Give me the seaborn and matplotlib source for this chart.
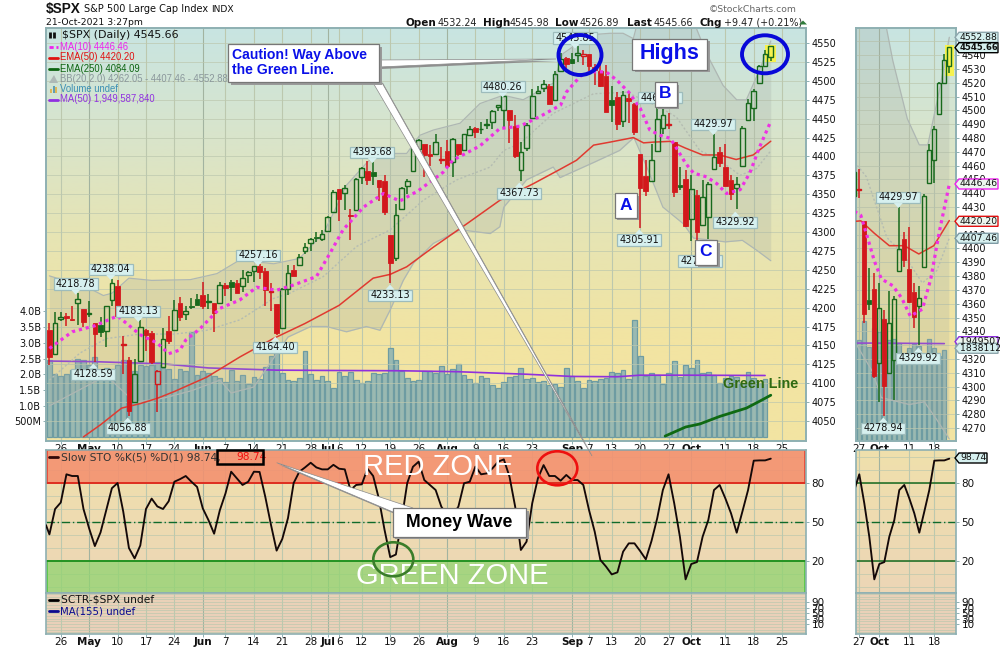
import numpy as np
import pandas as pd
import matplotlib
matplotlib.use("Agg")
import matplotlib.pyplot as plt
from matplotlib.colors import LinearSegmentedColormap
from matplotlib.patches import Rectangle, Polygon, Ellipse
import seaborn as sns

# daily candles, 22 Apr 2021 to 21 Oct 2021
opens = [4170.46,4138.78,4185.03,4188.25,4185.14,4206.14,4198.10,4191.98,4179.80,4177.06,4169.14,4210.34,4228.29,4150.34,4130.55,4074.99,4129.58,4169.92,4165.94,4098.45,4121.97,4168.61,4170.16,4205.94,4191.59,4201.94,4210.77,
         4216.52,4206.82,4206.05,4206.05,4229.34,4233.81,4232.99,4228.56,4242.90,4248.31,4255.28,4248.87,4220.37,4204.78,4173.40,4224.61,4249.27,4256.97,4274.45,4284.90,4293.21,4290.65,
         4300.73,4326.60,4356.46,4351.01,4321.07,4329.38,4372.41,4381.07,4380.11,4369.02,4367.43,4296.40,4265.11,4331.13,4361.27,4381.20,4409.58,4416.38,4402.95,4403.59,4395.12,
         4406.86,4392.74,4415.95,4408.86,4429.07,4437.77,4435.79,4442.18,4446.08,4464.84,4461.65,4462.12,4440.94,4382.44,4410.56,4450.29,4484.40,4490.45,4493.75,4474.10,4513.76,4529.75,
         4528.80,4534.48,4532.42,4535.38,4518.09,4513.02,4506.92,4474.81,4479.33,4447.49,4477.09,4469.74,4402.95,4374.45,4367.43,4406.75,4438.04,4442.12,4419.54,4362.41,4370.67,
         4317.16,4348.84,4309.87,4319.57,4383.73,4406.51,4385.44,4368.31,4358.01,4386.75,4447.69,4463.72,4497.34,4519.90,4532.24]
highs = [4179.57,4194.17,4194.19,4193.35,4201.53,4218.78,4198.10,4209.39,4179.80,4187.72,4202.70,4238.04,4236.39,4162.04,4134.73,4131.58,4183.13,4171.92,4169.15,4116.93,4172.80,4188.72,4209.52,4213.42,4202.61,4213.38,4218.36,
         4234.12,4217.37,4206.05,4233.45,4232.34,4236.74,4237.09,4249.74,4248.38,4255.59,4257.16,4251.89,4232.29,4204.78,4226.24,4255.84,4256.60,4271.28,4286.12,4292.14,4300.52,4302.43,
         4320.66,4355.43,4356.46,4361.88,4330.88,4371.60,4386.68,4393.68,4393.18,4369.02,4375.09,4296.40,4336.84,4359.70,4369.87,4415.18,4422.73,4416.38,4415.47,4429.97,4412.25,
         4422.18,4423.79,4416.17,4429.76,4440.82,4439.39,4445.21,4449.44,4461.77,4468.37,4480.26,4462.12,4454.32,4418.61,4444.35,4489.88,4492.81,4501.71,4495.90,4513.33,4537.36,4531.39,
         4537.11,4545.85,4541.45,4535.38,4521.79,4529.90,4520.47,4492.99,4485.68,4486.87,4485.87,4471.41,4402.95,4394.87,4416.75,4465.40,4463.12,4457.30,4419.54,4385.57,4382.55,
         4375.19,4355.51,4369.23,4365.57,4429.97,4412.02,4415.88,4374.89,4372.87,4439.73,4475.82,4488.75,4520.40,4540.87,4545.98]
lows = [4123.69,4138.78,4182.36,4176.22,4181.78,4176.81,4174.85,4188.03,4128.59,4160.94,4147.33,4201.64,4188.13,4111.53,4056.88,4074.99,4129.58,4142.69,4125.99,4061.41,4121.97,4151.72,4170.16,4182.52,4184.11,4197.78,4203.57,
        4197.59,4198.27,4167.34,4206.05,4215.66,4208.41,4218.74,4220.34,4232.25,4234.07,4238.35,4202.45,4196.05,4164.40,4173.40,4217.27,4241.43,4256.97,4271.16,4274.67,4287.04,4287.96,
        4300.73,4326.60,4314.37,4329.79,4289.37,4329.38,4364.03,4362.36,4362.36,4340.70,4322.53,4233.13,4262.05,4331.13,4350.06,4381.20,4405.45,4372.51,4387.01,4403.59,4389.65,
        4384.81,4373.00,4400.23,4408.86,4429.07,4424.74,4430.03,4436.42,4435.96,4460.82,4437.66,4417.83,4397.59,4367.73,4406.80,4450.29,4482.28,4485.66,4468.99,4474.10,4513.76,4515.80,
        4522.02,4524.66,4521.30,4513.00,4493.95,4492.07,4458.58,4445.70,4435.46,4438.37,4443.80,4427.76,4305.91,4347.96,4367.43,4406.75,4430.03,4436.19,4346.33,4355.08,4306.24,
        4288.52,4278.94,4309.87,4290.49,4383.73,4386.22,4360.59,4342.09,4329.92,4386.75,4447.69,4447.47,4496.41,4519.55,4526.89]
closes = [4134.98,4180.17,4187.62,4186.72,4183.18,4211.47,4181.17,4192.66,4164.66,4167.59,4201.62,4232.60,4188.43,4152.10,4063.04,4112.50,4173.85,4163.29,4127.83,4115.68,4159.12,4155.86,4197.05,4188.13,4195.99,4200.88,4204.11,
          4202.04,4208.12,4192.85,4229.89,4226.52,4227.26,4219.55,4239.18,4247.44,4255.15,4246.59,4223.70,4221.86,4166.45,4224.79,4246.44,4241.84,4266.49,4280.70,4290.61,4291.80,4297.50,
          4319.94,4352.34,4343.54,4358.13,4320.82,4369.55,4384.63,4369.21,4374.30,4360.03,4327.16,4258.49,4323.06,4358.69,4367.48,4411.79,4422.30,4401.46,4400.64,4419.15,4395.26,
          4387.16,4423.15,4402.66,4429.10,4436.52,4432.35,4436.75,4442.41,4460.83,4468.00,4479.71,4448.08,4400.27,4405.80,4441.67,4479.53,4486.23,4496.19,4470.00,4509.37,4528.79,4522.68,
          4524.09,4536.95,4535.43,4520.03,4514.07,4493.28,4458.58,4468.73,4443.05,4480.70,4473.75,4432.99,4357.73,4354.19,4395.64,4448.98,4455.48,4443.11,4352.63,4359.46,4307.54,
          4357.04,4300.46,4345.72,4363.55,4399.76,4391.34,4361.19,4350.65,4363.80,4438.26,4471.37,4486.46,4519.63,4536.19,4545.66]

# volume in billions, last day has none
volumes = [2.45,2.0,1.95,2.0,2.13,2.5,2.45,2.3,2.55,2.07,2.2,2.17,2.3,2.45,2.45,2.1,2.3,2.25,2.28,2.4,2.2,2.17,1.85,2.17,2.1,3.35,1.97,2.1,2.05,1.95,
           1.88,1.75,2.13,1.8,1.97,1.69,1.92,1.85,2.23,2.58,3.0,2.03,1.82,1.78,1.88,2.74,2.0,1.83,1.95,1.78,1.56,
           2.06,1.94,2.06,1.82,1.71,1.78,2.03,2.0,2.03,2.82,2.45,2.11,1.87,1.78,1.82,2.09,2.09,2.03,2.25,2.0,2.16,2.32,1.96,1.84,1.71,1.94,1.87,1.65,1.55,1.74,1.9,1.94,2.19,1.84,1.87,1.74,1.78,1.65,1.68,1.58,2.19,
           1.95,1.78,1.55,1.82,1.78,1.85,1.89,2.06,2.03,2.12,1.85,3.73,2.57,1.95,2.03,1.97,1.68,2.03,2.41,1.9,2.28,2.19,2.44,2.03,2.06,1.97,1.71,1.87,1.95,1.92,1.71,2.06,1.87,1.71,1.84]
vol_ma_x = [0,8,20,28,40,50,62,72,84,92,100,104,112,126]
vol_ma = [2.42,2.40,2.33,2.20,2.13,2.12,2.11,2.08,2.0,1.93,1.92,1.97,1.97,1.96]

ma10_x = [0,4,8,12,16,19,21,23,24,26.5,30,33.5,36.5,40,43,47,49.4,51.7,55.3,58.8,61.7,65,69.3,71,75.8,79.3,82.8,86.4,90,91,92.5,93.7,95.8,98,99.9,102,104,105.7,107.5,109.3,110.4,112,113.4,115.7,117.5,119.2,121.6,123.3,125,127]
ma10 = [4146,4168,4176,4189,4164,4153,4139,4144,4157,4172,4199,4210,4227,4223,4230,4241,4272,4303,4333,4351,4341,4355,4379,4395,4414,4437,4440,4453,4468,4485,4498,4508,4512,4512,4501,4485,4464,4435,4428,4424,4411,4391,4378,4373,4364,4351,4356,4378,4412,4446.46]
ema50_x = [6,9,12.7,16,19,22,27.7,33.6,39.4,45,51,57,60,62.9,67.6,73.5,79.3,85.2,89.9,92.8,95.8,98.7,102.8,104.6,106.3,109.3,112,115,118,120.9,123.9,127]
ema50 = [4029,4045,4067,4073,4080,4089,4108,4135,4159,4179,4203,4239,4244,4254,4280,4311,4342,4364,4383,4395,4415,4419,4425,4418,4419,4420,4411,4402,4402,4396,4402,4420.20]
ema250_x = [108.4,112,114.5,118,122.7,125,127]
ema250 = [4030,4042,4046,4056,4067,4076,4084.09]

bb_upper_x = [0,1.3,4.3,9.5,11,14,18,24.8,29.5,33.5,39.5,44,48.2,50,52.3,55.8,58.2,60.5,62.9,65.2,67.6,72.3,75.8,79.9,83.4,88.7,90.4,95.2,98.7,101,102.8,104,112.8,115.7,118.6,121,122.7,125,127]
bb_upper = [4242,4239,4236,4216,4219,4239,4236,4237,4245,4263,4258,4265,4298,4325,4362,4391,4408,4404,4404,4428,4435,4444,4470,4481,4475,4497,4536,4561,4563,4563,4556,4590,4590,4536,4494,4475,4475,4514,4552.88]
bb_lower_x = [0,5,10,15,20,25,30,32,36,38,42,46,48.8,52.3,55.8,58.2,60,62.3,64.1,67.6,72.3,77.6,79.3,80,84,88.7,89.9,95.8,100.4,102.9,105.4,108,111.6,113.4,119,122,124.5,127]
bb_lower = [4070,4090,4110,4075,4080,4090,4104,4087,4095,4117,4161,4175,4175,4168,4175,4170,4197,4236,4259,4285,4303,4298,4307,4333,4369,4386,4372,4392,4408,4425,4382,4333,4311,4292,4287,4289,4276,4262.05]
bb_mid_x = [0,5.4,10,16,22,27.7,33.6,39.4,42.3,48.2,54.1,60,65.8,71.7,77.6,80,82.8,88.7,92.8,95.8,101.6,107.5,110.4,114.5,118,121.6,124.5,127]
bb_mid = [4104,4140,4159,4165,4165,4170,4184,4212,4219,4241,4281,4303,4342,4369,4386,4408,4417,4457,4472,4483,4485,4465,4452,4408,4395,4375,4384,4407.46]

sto_start = 47.6
slow_sto = [40.5,60,65,86.7,85.4,85.4,60,45,31.5,42,59,76,80,58,30,22,32,60,68,62,60,66,81,83,85.4,81,77,60.5,51.5,41,59,72,88.7,83.6,78.5,81,88.7,88.5,69.5,48,28,37,53,80,88.7,92,95.6,92,90.5,90.5,94,91,90.5,74.6,78.5,79,91,85.4,68,44,23,25,51.5,80,92.5,96.4,
            82.3,78.5,74.6,61.8,55.4,55.4,61.8,79.8,81,92.6,86.7,87.4,91.3,96.4,98.2,84.9,61.8,28.5,34.9,64.4,83.6,93.8,85.4,85.4,81.8,86.2,82.3,82.3,78.5,59.2,42.6,20.8,15.7,9.7,11.3,27.2,33.6,33.6,27.7,21.3,35.4,52.8,74.6,86.7,64.4,38.7,5.9,17.7,19.2,38.7,51.5,74.6,78.5,68.2,56.7,41.8,58,74.6,97.2,97.4,97.4,98.74]

tick_dates = ["2021-04-26","2021-05-03","2021-05-10","2021-05-17","2021-05-24","2021-06-01","2021-06-07","2021-06-14","2021-06-21","2021-06-28","2021-07-01","2021-07-06","2021-07-12","2021-07-19","2021-07-26","2021-08-02","2021-08-09","2021-08-16","2021-08-23","2021-09-01","2021-09-07","2021-09-13","2021-09-20","2021-09-27","2021-10-01","2021-10-11","2021-10-18","2021-10-25"]
tick_labels = ["26","May","10","17","24","Jun","7","14","21","28","Jul","6","12","19","26","Aug","9","16","23","Sep","7","13","20","27","Oct","11","18","25"]
right_tick_dates = ["2021-09-27","2021-10-01","2021-10-11","2021-10-18"]
right_tick_labels = ["27","Oct","11","18"]
month_labels = ["May","Jun","Jul","Aug","Sep","Oct"]
vol_ticks = [0.5,1,1.5,2,2.5,3,3.5,4]
vol_labels = ["500M","1.0B","1.5B","2.0B","2.5B","3.0B","3.5B","4.0B"]

sns.set_style("white")
plt.rcParams["font.family"] = ["DejaVu Sans"]

GREEN = "#17691c"
RED = "#d2181c"
GRID = "#bcc8ae"
MONTH_GRID = "#a2b3a0"
SPINE = "#8eb0b2"
TEXT = "#111111"

top_cmap = LinearSegmentedColormap.from_list("top", ["#c8e5e2", "#d8e4cc", "#e6e4b4", "#f2e4a2", "#f2e4a2"])
low_cmap = LinearSegmentedColormap.from_list("low", ["#f0e0ac", "#ecd6b6"])
sub_cmap = LinearSegmentedColormap.from_list("sub", ["#ead2b8", "#ead0ba"])

days = pd.bdate_range("2021-04-22", "2021-10-29")
days = days.drop(pd.to_datetime(["2021-05-31", "2021-07-05", "2021-09-06"]))
opens, highs, lows, closes = map(np.array, (opens, highs, lows, closes))
bars = np.arange(len(closes))
prev = np.r_[closes[0] + 1, closes[:-1]]


def tick_pos(dates):
    return days.get_indexer(pd.to_datetime(dates))


def px_axes(fig, left, top, right, bottom):
    return fig.add_axes([left / 1000, 1 - bottom / 650, (right - left) / 1000, (bottom - top) / 650])


def paint(ax, cmap, xlim, ylim):
    ax.imshow(np.linspace(0, 1, 256).reshape(-1, 1), aspect="auto", cmap=cmap,
              extent=[xlim[0], xlim[1], ylim[0], ylim[1]], origin="upper", zorder=0)
    ax.set_xlim(xlim)
    ax.set_ylim(ylim)


def frame(ax):
    for side in ax.spines.values():
        side.set_color(SPINE)
        side.set_linewidth(1.2)


def x_grid(ax, pos, labels):
    for p, lab in zip(pos, labels):
        ax.axvline(p, color=MONTH_GRID if lab in month_labels else GRID, lw=0.8, zorder=0.5)


def x_labels(ax, pos, labels, show=True):
    ax.set_xticks(pos)
    if show:
        ax.set_xticklabels(labels)
        for t in ax.get_xticklabels():
            t.set_fontweight("bold" if t.get_text() in month_labels else "normal")
    else:
        ax.set_xticklabels([])
    ax.tick_params(axis="x", bottom=True, length=2, width=0.7, color=SPINE, labelsize=7.5, pad=0.5, labelcolor=TEXT)
    ax.set_xlabel("")


def price_panel(fig, box, xlim, vol_lim, price_lim, yticks, candle_w, pos, labels, line_w, is_main):
    left, top, right, bottom = box
    ax_vol = px_axes(fig, left, top, right, bottom)
    paint(ax_vol, top_cmap, xlim, vol_lim)
    x_grid(ax_vol, pos, labels)
    sns.barplot(x=np.arange(len(volumes)), y=volumes, native_scale=True, ax=ax_vol, color="#9ab9b1",
                edgecolor="#6e9ca2", linewidth=0.9, width=0.84, saturation=1, zorder=2)
    sns.lineplot(x=vol_ma_x, y=vol_ma, ax=ax_vol, color="#9030dc", lw=1.2, zorder=3)
    ax_vol.set_xlim(xlim)
    ax_vol.set_ylim(vol_lim)
    ax_vol.set_ylabel("")
    x_labels(ax_vol, pos, labels)
    if is_main:
        ax_vol.set_yticks(vol_ticks)
        ax_vol.set_yticklabels(vol_labels)
        ax_vol.tick_params(axis="y", left=True, length=2, width=0.7, color=SPINE, labelsize=7, pad=1.5, labelcolor=TEXT)
    else:
        ax_vol.set_yticks([])
    frame(ax_vol)

    ax = ax_vol.twinx()
    ax.patch.set_visible(False)
    ax.set_ylim(price_lim)
    ax.set_yticks(yticks)
    ax.tick_params(axis="y", right=True, length=2, width=0.7, color=SPINE, labelsize=7, pad=2, labelcolor=TEXT)
    for v in (np.arange(4050, 4575, 25) if is_main else np.arange(4270, 4560, 10)):
        ax.axhline(v, color=GRID, lw=0.7, alpha=0.7, zorder=0.5)

    grid_x = sorted(set(bb_upper_x) | set(bb_lower_x))
    ax.fill_between(grid_x, np.interp(grid_x, bb_lower_x, bb_lower), np.interp(grid_x, bb_upper_x, bb_upper),
                    color="#9fa9a2", alpha=0.24, lw=0, zorder=1)
    sns.lineplot(x=bb_upper_x, y=bb_upper, ax=ax, color="#aeb7b3", lw=0.9, zorder=1.2)
    sns.lineplot(x=bb_lower_x, y=bb_lower, ax=ax, color="#aeb7b3", lw=0.9, zorder=1.2)
    sns.lineplot(x=bb_mid_x, y=bb_mid, ax=ax, color="#b4bcb2", lw=1.0, linestyle=(0, (1.5, 1.5)), zorder=1.3)
    sns.lineplot(x=ema250_x, y=ema250, ax=ax, color="#0f6a12", lw=2.0, zorder=3)
    sns.lineplot(x=ema50_x, y=ema50, ax=ax, color="#e03a30", lw=1.1, zorder=3)

    # today's candle sits on a yellow patch
    ax.add_patch(Rectangle((bars[-1] - 0.95, lows[-1] - 2), 1.9, highs[-1] - lows[-1] + 3,
                           color="#f6f24e", lw=0, zorder=2.5))
    colors = np.where(closes >= prev, GREEN, RED)
    ax.vlines(bars, np.maximum(opens, closes), highs, colors=colors, lw=1.1, zorder=4)
    ax.vlines(bars, lows, np.minimum(opens, closes), colors=colors, lw=1.1, zorder=4)
    heights = np.abs(closes - opens)
    heights = np.where(heights < 1.2, 1.2, heights)
    bottoms = np.minimum(opens, closes)
    hollow = closes > opens
    ax.bar(bars[hollow], heights[hollow], bottom=bottoms[hollow], width=candle_w, facecolor="none",
           edgecolor=colors[hollow], lw=1.0, zorder=5)
    ax.bar(bars[~hollow], heights[~hollow], bottom=bottoms[~hollow], width=candle_w, color=colors[~hollow],
           edgecolor=colors[~hollow], lw=0.6, zorder=5)
    sns.lineplot(x=ma10_x, y=ma10, ax=ax, color="#ee30e4", lw=line_w, linestyle=(0, (1, 1.2)), zorder=6)
    ax.set_xlim(xlim)
    ax.set_ylim(price_lim)
    ax.set_ylabel("")
    frame(ax)
    return ax


def sto_panel(fig, box, xlim, pos, labels, tick_side_main):
    left, top, right, bottom = box
    sub_top = 593
    ax = px_axes(fig, left, top, right, sub_top)
    ylim = (-4.6, 105.4)
    paint(ax, low_cmap, xlim, ylim)
    x_grid(ax, pos, labels)
    for v in range(0, 101, 10):
        ax.axhline(v, color=GRID, lw=0.7, alpha=0.7, zorder=0.5)
    if tick_side_main:
        ax.axhspan(80, 105.4, facecolor="#f4906f", edgecolor="none", alpha=0.88, zorder=1)
        ax.axhspan(-4.6, 20, facecolor="#90d470", edgecolor="none", alpha=0.75, zorder=1)
        ax.add_patch(Rectangle((xlim[0] + 0.1, 80), xlim[1] - xlim[0] - 0.2, 25.2, fill=False, edgecolor="#e84a3a", lw=1.3, zorder=1.1))
        ax.add_patch(Rectangle((xlim[0] + 0.1, -4.4), xlim[1] - xlim[0] - 0.2, 24.4, fill=False, edgecolor="#58c848", lw=1.3, zorder=1.1))
        ax.axhline(80, color="#dd2a1c", lw=1.2, zorder=1.2)
        ax.axhline(20, color="#1c8a1c", lw=1.2, zorder=1.2)
    else:
        ax.axhline(80, color=GREEN, lw=1.1, zorder=1.2)
        ax.axhline(20, color=GREEN, lw=1.1, zorder=1.2)
    ax.axhline(50, color="#0e6a2a", lw=1.0, linestyle=(0, (6, 2, 1, 2)), zorder=1.2)
    sns.lineplot(x=np.r_[xlim[0], bars] if tick_side_main else bars,
                 y=np.r_[sto_start, slow_sto] if tick_side_main else slow_sto,
                 ax=ax, color="#140808", lw=1.35, zorder=3)
    ax.set_xlim(xlim)
    ax.set_ylim(ylim)
    ax.set_ylabel("")
    ax.set_yticks([20, 50, 80])
    ax.yaxis.tick_right()
    ax.tick_params(axis="y", right=True, length=2, width=0.7, color=SPINE, labelsize=7.5, pad=2, labelcolor=TEXT)
    x_labels(ax, pos, labels, show=False)
    ax.tick_params(axis="x", bottom=False)
    frame(ax)

    sub = px_axes(fig, left, sub_top, right, bottom)
    paint(sub, sub_cmap, xlim, (-26, 122.7))
    x_grid(sub, pos, labels)
    for v in range(-20, 121, 10):
        sub.axhline(v, color=GRID, lw=0.7, alpha=0.7, zorder=0.5)
    sub.set_yticks([10, 30, 50, 70, 90])
    sub.yaxis.tick_right()
    sub.tick_params(axis="y", right=True, length=2, width=0.7, color=SPINE, labelsize=7.5, pad=2, labelcolor=TEXT)
    x_labels(sub, pos, labels)
    frame(sub)


fig = plt.figure(figsize=(10, 6.5), dpi=100, facecolor="white")

main_pos = tick_pos(tick_dates)
right_pos = tick_pos(right_tick_dates)
main_xlim = (-0.6, 133.2)
right_xlim = (108.34, 128.34)

price_panel(fig, (46, 28, 806, 441), main_xlim, (-0.127, 13.03), (4023.5, 4570), np.arange(4050, 4575, 25), 0.82,
            main_pos, tick_labels, 2.3, True)
price_panel(fig, (856, 28, 956, 441), right_xlim, (0, 8.31), (4260.6, 4559.6), np.arange(4270, 4550, 10), 0.8,
            right_pos, right_tick_labels, 2.3, False)
sto_panel(fig, (46, 450, 806, 634), main_xlim, main_pos, tick_labels, True)
sto_panel(fig, (856, 450, 956, 634), right_xlim, right_pos, right_tick_labels, False)

# everything pasted on the chart, placed in pixels
ov = fig.add_axes([0, 0, 1, 1], zorder=20)
ov.set_xlim(0, 1000)
ov.set_ylim(650, 0)
ov.axis("off")
ov.patch.set_visible(False)


def txt(x, y, s, size=7, color=TEXT, weight="normal", ha="left", family="DejaVu Sans", z=12):
    ov.text(x, y, s, fontsize=size, color=color, fontweight=weight, ha=ha, va="center", family=family, zorder=z)


def price_tag(cx, cy, s, up=False, z=8):
    w, h = 44, 11.5
    ov.add_patch(Rectangle((cx - w / 2, cy - h / 2), w, h, facecolor="#d6f0ef", edgecolor="#9dbcbc", lw=0.9, zorder=z))
    tip = cy - h / 2 - 5 if up else cy + h / 2 + 5
    base = cy - h / 2 if up else cy + h / 2
    ov.add_patch(Polygon([(cx - 4.5, base), (cx + 4.5, base), (cx, tip)], facecolor="#d6f0ef", edgecolor="none", zorder=z))
    txt(cx, cy, s, size=6.9, ha="center", z=z + 0.1)


def paste_box(left, top, right, bottom, z=10):
    ov.add_patch(Rectangle((left + 2.5, top + 2.5), right - left, bottom - top, facecolor="#9a9a9a", edgecolor="none", zorder=z))
    ov.add_patch(Rectangle((left, top), right - left, bottom - top, facecolor="white", edgecolor="#777777", lw=0.9, zorder=z + 0.1))


def wedge(points, z=9):
    shadow = [(x + 2, y + 2) for x, y in points]
    ov.add_patch(Polygon(shadow, facecolor="#8f8f8f", edgecolor="none", zorder=z))
    ov.add_patch(Polygon(points, facecolor="white", edgecolor="#8a8a8a", lw=0.5, zorder=z + 0.1))


# header
txt(46, 9, "$SPX", size=9.8, weight="bold", family="Liberation Sans")
txt(84, 9, "S&P 500 Large Cap Index", size=7)
txt(211, 9, "INDX", size=6.6)
txt(46, 22.5, "21-Oct-2021 3:27pm", size=6.7)
txt(797, 9, "©StockCharts.com", size=6.7, color="#666666", ha="right")
for x, s in [(406, "Open"), (483, "High"), (555, "Low"), (627, "Last"), (699, "Chg")]:
    txt(x, 22.5, s, size=7.5, weight="bold")
for x, s in [(438, "4532.24"), (510, "4545.98"), (580, "4526.89"), (654, "4545.66"), (724, "+9.47 (+0.21%)")]:
    txt(x, 22.5, s, size=6.9, color="#222222")
ov.add_patch(Polygon([(799, 24.5), (807, 24.5), (803, 20.5)], facecolor="#2f7a3a", edgecolor="none", zorder=12))

# legend of the price panel
txt(62, 35, "$SPX (Daily) 4545.66", size=7.9, z=7)
legend_rows = [(46.5, "MA(10) 4446.46", "#ee22ee"), (57.5, "EMA(50) 4420.20", "#e01010"),
               (68.5, "EMA(250) 4084.09", "#0c6410"), (79.5, "BB(20,2.0) 4262.05 - 4407.46 - 4552.88", "#8a979c"),
               (89.5, "Volume undef", "#3a8fb4"), (99.5, "MA(50) 1,949,587,840", "#9030e0")]
for y, s, c in legend_rows:
    txt(60, y, s, size=6.85, color=c, family="Liberation Sans", z=7)
ov.plot([49, 58], [46.5, 46.5], color="#ee22ee", lw=2, linestyle=(0, (1.5, 1)), zorder=7)
ov.plot([49, 58], [57.5, 57.5], color="#e01010", lw=2, zorder=7)
ov.plot([49, 58], [68.5, 68.5], color="#0c6410", lw=2, zorder=7)
ov.plot([49, 58], [99.5, 99.5], color="#9030e0", lw=2, zorder=7)
ov.add_patch(Polygon([(49, 83), (54, 75), (58, 83)], facecolor="#aeb9b6", edgecolor="none", zorder=7))
ov.vlines([51, 53.5, 56], [89, 86, 87], [93, 93, 93], colors=["#e0b040", "#4a90b0", "#e0b040"], lw=1.2, zorder=7)
ov.vlines([50, 54], [32, 32], [38, 38], colors="#111111", lw=2, zorder=7)

# high and low tags
for cx, cy, s, up in [(75.7, 284, "4218.78", False), (110.7, 269.3, "4238.04", False), (138.3, 311.3, "4183.13", False),
                      (93.3, 374.3, "4128.59", True), (127.7, 428.3, "4056.88", True), (258, 255.3, "4257.16", False),
                      (275.3, 347.3, "4164.40", True), (372.3, 152.3, "4393.68", False), (390, 295.3, "4233.13", True),
                      (502.7, 86.7, "4480.26", False), (519.3, 193.3, "4367.73", True), (575, 38, "4545.85", False),
                      (660, 97.7, "4465.40", False), (713.3, 124.3, "4429.97", False), (639.3, 240, "4305.91", True),
                      (700, 261, "4278.94", True), (735.3, 222.3, "4329.92", True), (898.3, 197.3, "4429.97", False),
                      (918.3, 358.3, "4329.92", True), (883.3, 428.3, "4278.94", True)]:
    price_tag(cx, cy, s, up)

# callouts
wedge([(379, 60), (556, 59), (379, 67)])
wedge([(372, 81), (381, 81), (592, 456)])
paste_box(228, 44, 379, 82)
txt(232, 54.5, "Caution! Way Above", size=10.1, color="#0a10e8", weight="bold", family="Liberation Sans", z=11)
txt(232, 70.5, "the Green Line.", size=10.1, color="#0a10e8", weight="bold", family="Liberation Sans", z=11)
paste_box(632, 38.5, 707, 69.5)
txt(669.5, 54, "Highs", size=15.5, color="#0a10e8", weight="bold", ha="center", family="Liberation Sans", z=11)
for left, top, s in [(614.5, 193, "A"), (654.5, 82, "B"), (695, 240, "C")]:
    paste_box(left, top, left + 22, top + 24.5)
    txt(left + 11, top + 12, s, size=12.5, color="#0a10e8", weight="bold", ha="center", family="Liberation Sans", z=11)
txt(761, 384, "Green Line", size=10.4, color="#2f6a12", weight="bold", ha="center", family="Liberation Sans", z=11)

ov.add_patch(Ellipse((580, 55), 43, 40, fill=False, edgecolor="#0808d8", lw=2.8, zorder=12))
ov.add_patch(Ellipse((765, 54.3), 46, 38, fill=False, edgecolor="#0808d8", lw=2.8, zorder=12))

# right panel value tags
for y, s, edge, face, bold in [(37.3, "4552.88", "#8ea6ac", "#d6f0ef", False), (47.7, "4545.66", "#000000", "#d6f0ef", True),
                               (184, "4446.46", "#ee22ee", "#ecf6ee", False), (221.3, "4420.20", "#e01010", "#ecf6ee", False),
                               (238.3, "4407.46", "#7e9ba4", "#d6f0ef", False), (341.7, "1949507", "#9030e0", "#ecf6ee", False),
                               (348.3, "1838112", "#8ea6ac", "#d6f0ef", False), (458, "98.74", "#000000", "#d6f0ef", False)]:
    right_edge = 998 if bold or s != "98.74" else 987
    ov.add_patch(Polygon([(955, y), (959, y - 5), (right_edge, y - 5), (right_edge, y + 5), (959, y + 5)],
                         facecolor=face, edgecolor=edge, lw=1.0, zorder=8))
    txt(960, y, s, size=6.1 if bold else 6.7, weight="bold" if bold else "normal", z=9)

# stochastic panel text
txt(61, 457.5, "Slow STO %K(5) %D(1) 98.74,", size=7.7, color="#333333", z=7)
txt(236, 457.5, "98.74", size=7.7, color="#f01010", z=7)
ov.plot([49, 58], [457, 457], color="#300808", lw=2, zorder=7)
ov.add_patch(Rectangle((216.7, 449.5), 46, 14.5, fill=False, edgecolor="black", lw=1.8, zorder=8))
txt(61, 600, "SCTR-$SPX undef", size=7.7, z=7)
txt(60, 611.5, "MA(155) undef", size=7.3, color="#0a0a90", z=7)
ov.plot([49, 58], [600, 600], color="black", lw=2, zorder=7)
ov.plot([49, 58], [611, 611], color="#0a0a90", lw=2, zorder=7)

txt(438.5, 467, "RED ZONE", size=21, color="white", ha="center", family="Liberation Sans", z=8)
txt(452, 575.5, "GREEN ZONE", size=21, color="white", ha="center", family="Liberation Sans", z=8)
ov.add_patch(Ellipse((557.3, 468.3), 40, 34, fill=False, edgecolor="#ee1010", lw=1.9, zorder=12))
ov.add_patch(Ellipse((393.3, 559.3), 40, 34, fill=False, edgecolor="#3a7d2a", lw=1.9, zorder=12))
wedge([(276.7, 462.7), (413, 508), (393, 512)])
paste_box(392.7, 508, 526, 536.7)
txt(459.5, 522.5, "Money Wave", size=12.7, weight="bold", color="black", ha="center", family="Liberation Sans", z=11)

fig.savefig("out.png", dpi=100, facecolor="white")
